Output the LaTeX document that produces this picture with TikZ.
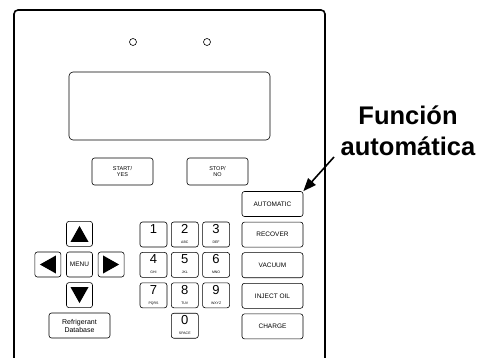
\documentclass[tikz,border=0pt]{standalone}
\usepackage{fontspec}
\setmainfont{Liberation Sans}
\usepackage{tikz}
\usetikzlibrary{arrows.meta, positioning, calc}

\begin{document}
\begin{tikzpicture}[
    x=1pt, y=-1pt,
    key/.style={draw, line width=0.6pt, rounded corners=2.5pt, minimum width=26pt, minimum height=25pt, inner sep=0pt, align=center},
    fnkey/.style={key, minimum width=61pt, font=\fontsize{6.5}{7}\selectfont},
    numkey/.style={key, minimum width=27pt},
    arrow/.style={-{Triangle[length=13pt,width=10pt]}, line width=1.6pt}
]
    \useasboundingbox (0,0) rectangle (482,358);

    % Front panel
    \draw[line width=1.6pt, rounded corners=4pt] (14,362) -- (14,10) -- (325,10) -- (325,362);
    \draw[line width=0.6pt] (133,42) circle (3.5pt) (207,42) circle (3.5pt);
    \draw[line width=0.6pt, rounded corners=4pt] (69,72) rectangle (270,140);

    % Start / stop
    \node[fnkey, minimum height=27pt, font=\fontsize{5.5}{6.5}\selectfont] (start) at (122.5,171.5) {START/\\YES};
    \node[fnkey, minimum height=27pt, font=\fontsize{5.5}{6.5}\selectfont] (stop) at (217.5,171.5) {STOP/\\NO};

    % Function keys
    \node[fnkey] (auto) at (272.5,204) {AUTOMATIC};
    \node[fnkey, below=5pt of auto] (recover) {RECOVER};
    \node[fnkey, below=5pt of recover] (vacuum) {VACUUM};
    \node[fnkey, below=5pt of vacuum] (inject) {INJECT OIL};
    \node[fnkey, below=5pt of inject] (charge) {CHARGE};

    % Cursor keys
    \node[key, font=\fontsize{6.5}{7}\selectfont] (menu) at (79.5,264.5) {MENU};
    \node[key, above=5pt of menu] (up) {};
    \node[key, below=5pt of menu] (down) {};
    \node[key, left=5pt of menu] (left) {};
    \node[key, right=5pt of menu] (right) {};
    \fill ($(up)+(0,-8)$) -- ($(up)+(9,8)$) -- ($(up)+(-9,8)$) -- cycle;
    \fill ($(down)+(0,8)$) -- ($(down)+(9,-8)$) -- ($(down)+(-9,-8)$) -- cycle;
    \fill ($(left)+(-8,0)$) -- ($(left)+(8,-9)$) -- ($(left)+(8,9)$) -- cycle;
    \fill ($(right)+(8,0)$) -- ($(right)+(-8,-9)$) -- ($(right)+(-8,9)$) -- cycle;
    \node[fnkey, font=\fontsize{7}{8}\selectfont] (refdb) at (79.5,325.5) {Refrigerant\\Database};

    % Number pad
    \foreach \d/\sub/\c/\r in {1//0/0, 2/ABC/1/0, 3/DEF/2/0,
                                4/GHI/0/1, 5/JKL/1/1, 6/MNO/2/1,
                                7/PQRS/0/2, 8/TUV/1/2, 9/WXYZ/2/2,
                                0/SPACE/1/3}
        \node[numkey] (n\d) at (153.5+31.3*\c, 234.5+30.4*\r)
            {{\fontsize{13}{13}\selectfont\d}\\[-2pt]{\fontsize{3.5}{4}\selectfont\strut\sub}};

    % Callout
    \node[font=\bfseries\fontsize{25.5}{31}\selectfont, align=center] (label) at (408,131) {Función\\automática};
    \coordinate (tail) at (334,157);
    \draw[arrow] (tail) -- (auto.north east);
\end{tikzpicture}
\end{document}
